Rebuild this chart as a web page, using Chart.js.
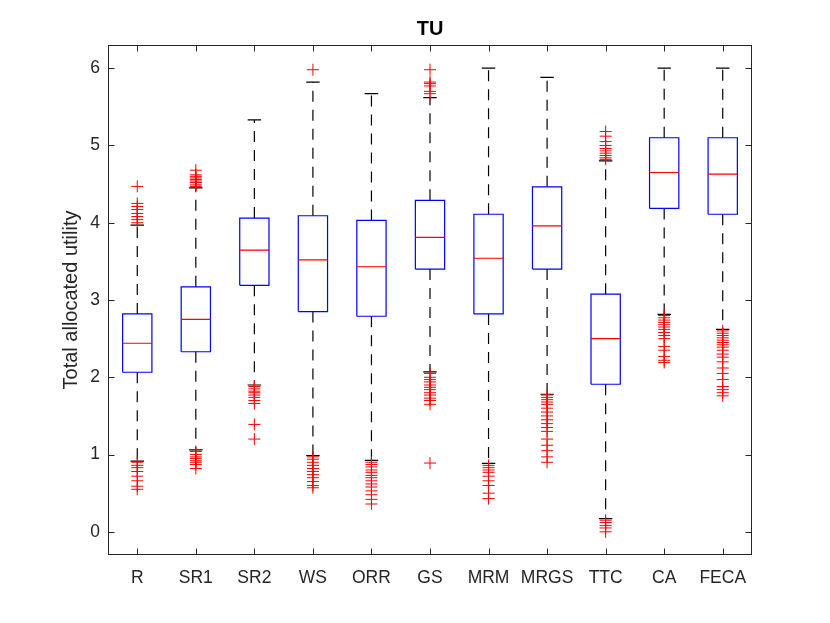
<!DOCTYPE html>
<html><head><meta charset="utf-8">
<script src="https://cdn.jsdelivr.net/npm/chart.js@4/dist/chart.umd.min.js"></script>
<style>html,body{margin:0;padding:0;background:#fff}#wrap{width:830px;height:623px;position:relative}</style>
</head><body><div id="wrap"><canvas id="c"></canvas></div>
<script>
const categories = ['R','SR1','SR2','WS','ORR','GS','MRM','MRGS','TTC','CA','FECA'];
const q1 =          [2.065, 2.33, 3.19, 2.85, 2.79, 3.40, 2.82, 3.40, 1.91, 4.185, 4.11];
const medians =     [2.44, 2.75, 3.645, 3.52, 3.43, 3.81, 3.54, 3.96, 2.50, 4.65, 4.63];
const q3 =          [2.82, 3.17, 4.06, 4.09, 4.03, 4.29, 4.11, 4.465, 3.075, 5.10, 5.10];
const whiskerLow =  [0.915, 1.06, 1.90, 0.985, 0.925, 2.07, 0.885, 1.78, 0.17, 2.815, 2.62];
const whiskerHigh = [3.97, 4.45, 5.33, 5.82, 5.67, 5.62, 6.00, 5.88, 4.80, 6.00, 6.00];
const outliersR    = [4.47,4.25,4.21,4.17,4.12,4.08,4.04,4.0, 0.9,0.86,0.83,0.78,0.72,0.66,0.59,0.55];
const outliersSR1  = [4.68,4.62,4.6,4.58,4.56,4.54,4.52,4.49,4.47, 1.04,1.0,0.97,0.95,0.92,0.9,0.87,0.82];
const outliersSR2  = [1.88,1.85,1.82,1.8,1.77,1.74,1.7,1.66,1.39,1.2];
const outliersWS   = [5.98, 0.97,0.94,0.9,0.86,0.82,0.78,0.74,0.7,0.65,0.6,0.57];
const outliersORR  = [0.9,0.87,0.84,0.8,0.77,0.73,0.7,0.66,0.62,0.58,0.53,0.48,0.42,0.36];
const outliersGS   = [5.98,5.82,5.8,5.77,5.7,5.67, 2.05,2.0,1.97,1.94,1.9,1.87,1.84,1.8,1.77,1.73,1.7,1.65,0.89];
const outliersMRM  = [0.86,0.83,0.8,0.77,0.72,0.66,0.6,0.5,0.43];
const outliersMRGS = [1.77,1.74,1.71,1.68,1.65,1.6,1.55,1.5,1.45,1.4,1.35,1.3,1.2,1.12,1.05,0.97,0.9];
const outliersTTC  = [5.18,5.12,5.05,5.0,4.96,4.93,4.9,4.87,4.84,4.82, 0.15,0.12,0.08,0.05,0.0];
const outliersCA   = [2.8,2.77,2.74,2.71,2.68,2.65,2.62,2.58,2.54,2.5,2.4,2.35,2.27,2.22,2.19];
const outliersFECA = [2.6,2.57,2.54,2.51,2.48,2.45,2.42,2.39,2.35,2.3,2.26,2.2,2.12,2.05,1.97,1.88,1.84,1.8,1.76];
const outliers = [outliersR,outliersSR1,outliersSR2,outliersWS,outliersORR,outliersGS,outliersMRM,outliersMRGS,outliersTTC,outliersCA,outliersFECA];
const yTicks = [0,1,2,3,4,5,6];

const BOX_HALF = 0.25, CAP_HALF = 0.115;
const boxPts=[], medPts=[], whiskPts=[], capPts=[], outPts=[];
categories.forEach((c,i)=>{
  const x=i+1;
  boxPts.push({x:x-BOX_HALF,y:q1[i]},{x:x+BOX_HALF,y:q1[i]},{x:x+BOX_HALF,y:q3[i]},{x:x-BOX_HALF,y:q3[i]},{x:x-BOX_HALF,y:q1[i]},{x:x,y:null});
  medPts.push({x:x-BOX_HALF,y:medians[i]},{x:x+BOX_HALF,y:medians[i]},{x:x,y:null});
  whiskPts.push({x:x,y:q3[i]},{x:x,y:whiskerHigh[i]},{x:x,y:null},{x:x,y:q1[i]},{x:x,y:whiskerLow[i]},{x:x,y:null});
  capPts.push({x:x-CAP_HALF,y:whiskerHigh[i]},{x:x+CAP_HALF,y:whiskerHigh[i]},{x:x,y:null},{x:x-CAP_HALF,y:whiskerLow[i]},{x:x+CAP_HALF,y:whiskerLow[i]},{x:x,y:null});
  outliers[i].forEach(v=>outPts.push({x:x,y:v}));
});

const AX = '#262626';
const frame = {
  id:'frame',
  afterDraw(chart){
    const {ctx, chartArea:a, scales:{x,y}} = chart;
    ctx.save();
    ctx.strokeStyle=AX; ctx.lineWidth=1;
    ctx.strokeRect(a.left+0.5, a.top+0.5, a.right-a.left-1, a.bottom-a.top-1);
    const L=6.5;
    ctx.beginPath();
    y.ticks.forEach(t=>{const p=Math.round(y.getPixelForValue(t.value))+0.5;
      ctx.moveTo(a.left,p);ctx.lineTo(a.left+L,p);ctx.moveTo(a.right,p);ctx.lineTo(a.right-L,p);});
    x.ticks.forEach(t=>{const p=Math.round(x.getPixelForValue(t.value))+0.5;
      ctx.moveTo(p,a.bottom);ctx.lineTo(p,a.bottom-L);ctx.moveTo(p,a.top);ctx.lineTo(p,a.top+L);});
    ctx.stroke();
    ctx.restore();
  }
};

const line = (data, color, extra) => Object.assign({data, showLine:true, spanGaps:false, borderColor:color, backgroundColor:color, pointRadius:0, borderWidth:1.2, fill:false}, extra);
const FONT = 'Liberation Sans, Arial, sans-serif';

new Chart(document.getElementById('c'), {
  type:'scatter',
  data:{datasets:[
    line(outPts,'#ff0000',{showLine:false,pointStyle:'cross',pointRadius:6,pointBorderWidth:1,borderWidth:1,order:0}),
    line(medPts,'#ff0000',{order:1}),
    line(boxPts,'#0000ff',{order:2}),
    line(capPts,'#000000',{order:3}),
    line(whiskPts,'#000000',{borderDash:[11,8],order:4})
  ]},
  options:{
    responsive:true, maintainAspectRatio:false, animation:false, events:[],
    layout:{padding:{left:0,right:78,top:0,bottom:0}},
    plugins:{
      legend:{display:false}, tooltip:{enabled:false},
      title:{display:true,fullSize:false,text:'TU',color:'#000',font:{family:FONT,size:20,weight:'bold'},padding:{top:17,bottom:4}}
    },
    scales:{
      x:{type:'linear',min:0.5,max:11.5,
        afterFit(s){s.height=68;},
        afterBuildTicks(s){s.ticks = categories.map((c,i)=>({value:i+1}));},
        grid:{display:false,drawTicks:false},border:{display:false},
        ticks:{autoSkip:false,maxRotation:0,padding:13,color:AX,
          font:{family:FONT,size:17.5},
          callback:(v)=>categories[Math.round(v)-1] ?? ''}},
      y:{type:'linear',min:-0.3,max:6.3,
        afterFit(s){s.width=108;},
        afterBuildTicks(s){s.ticks = yTicks.map(v=>({value:v}));},
        grid:{display:false,drawTicks:false},border:{display:false},
        title:{display:true,text:'Total allocated utility',color:AX,padding:{top:59,bottom:0},
          font:{family:FONT,size:20}},
        ticks:{padding:8,color:AX,
          font:{family:FONT,size:17.5}}}
    }
  },
  plugins:[frame]
});
</script></body></html>
